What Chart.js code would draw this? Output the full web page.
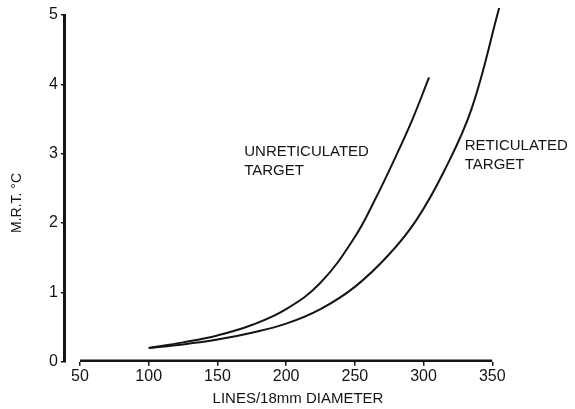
<!DOCTYPE html>
<html><head><meta charset="utf-8">
<script src="https://cdn.jsdelivr.net/npm/chart.js@4"></script>
<style>html,body{margin:0;padding:0;background:#fff}#wrap{width:575px;height:409px}</style>
</head><body><div id="wrap"><canvas id="c" width="575" height="409"></canvas></div>
<script>
// ---- data ----
const xTicks = [50, 100, 150, 200, 250, 300, 350];
const yTicks = [0, 1, 2, 3, 4, 5];
const unretX = [100, 125, 150, 175, 200, 225, 250, 265, 280, 292, 304];
const unretY = [0.2, 0.28, 0.38, 0.53, 0.76, 1.14, 1.8, 2.35, 2.97, 3.5, 4.1];
const retX = [100, 125, 150, 175, 200, 225, 250, 275, 295, 315, 335, 355];
const retY = [0.2, 0.25, 0.32, 0.42, 0.55, 0.76, 1.08, 1.55, 2.05, 2.75, 3.65, 5.1];
const seriesNames = ['UNRETICULATED TARGET', 'RETICULATED TARGET'];
const xTitle = 'LINES/18mm DIAMETER';
const yTitle = 'M.R.T. °C';
// ---- annotation placement (data coords) ----
const annLines = [['UNRETICULATED', 'TARGET'], ['RETICULATED', 'TARGET']];
const annAt = [{x: 169.5, y: 3.02}, {x: 330, y: 3.11}];

const INK = '#141414';
const FONT = '"Liberation Sans", Arial, sans-serif';

function pts(xs, ys) { return xs.map((x, i) => ({x: x, y: ys[i]})); }

const overlay = {
  id: 'overlay',
  afterDraw(chart) {
    const ctx = chart.ctx, xs = chart.scales.x, ys = chart.scales.y, ca = chart.chartArea;
    ctx.save();
    ctx.strokeStyle = INK; ctx.lineWidth = 2.5; ctx.lineCap = 'butt';
    ctx.beginPath();
    ctx.moveTo(xs.getPixelForValue(xTicks[0]), ca.bottom - 1);
    ctx.lineTo(xs.getPixelForValue(xTicks[xTicks.length - 1]), ca.bottom - 1);
    ctx.stroke();
    ctx.fillStyle = INK;
    ctx.font = '15px ' + FONT; ctx.textAlign = 'left'; ctx.textBaseline = 'middle';
    annLines.forEach((lines, i) => {
      const px = xs.getPixelForValue(annAt[i].x), py = ys.getPixelForValue(annAt[i].y);
      lines.forEach((t, j) => ctx.fillText(t, px, py + j * 19));
    });
    ctx.font = '15px ' + FONT; ctx.textAlign = 'center'; ctx.textBaseline = 'middle';
    ctx.fillText(xTitle, 298, 399);
    ctx.translate(17, 203); ctx.rotate(-Math.PI / 2);
    ctx.font = '14px ' + FONT;
    ctx.fillText(yTitle, 0, 0);
    ctx.restore();
  }
};

new Chart(document.getElementById('c'), {
  type: 'line',
  data: {
    datasets: [
      {label: seriesNames[0], data: pts(unretX, unretY)},
      {label: seriesNames[1], data: pts(retX, retY)}
    ]
  },
  options: {
    responsive: false, animation: false, devicePixelRatio: 1,
    layout: {padding: {left: 46, right: 69, top: 15, bottom: 22}},
    elements: {
      line: {borderColor: INK, borderWidth: 2, tension: 0.4, fill: false},
      point: {radius: 0, hoverRadius: 0}
    },
    datasets: {line: {clip: false}},
    plugins: {legend: {display: false}, tooltip: {enabled: false}},
    scales: {
      x: {
        type: 'linear', min: 39, max: 360,
        afterBuildTicks: s => { s.ticks = xTicks.map(v => ({value: v})); },
        border: {display: false},
        grid: {drawOnChartArea: false, drawTicks: true, tickLength: 4, color: INK, lineWidth: 1.5},
        ticks: {color: INK, font: {family: FONT, size: 16}, padding: 1, maxRotation: 0, autoSkip: false}
      },
      y: {
        min: 0, max: 5,
        afterBuildTicks: s => { s.ticks = yTicks.map(v => ({value: v})); },
        border: {display: true, color: INK, width: 3},
        grid: {drawOnChartArea: false, drawTicks: true, tickLength: 4, color: INK, lineWidth: 1.5},
        ticks: {color: INK, font: {family: FONT, size: 16}, padding: 3, autoSkip: false}
      }
    }
  },
  plugins: [overlay]
});
</script>
</body></html>
